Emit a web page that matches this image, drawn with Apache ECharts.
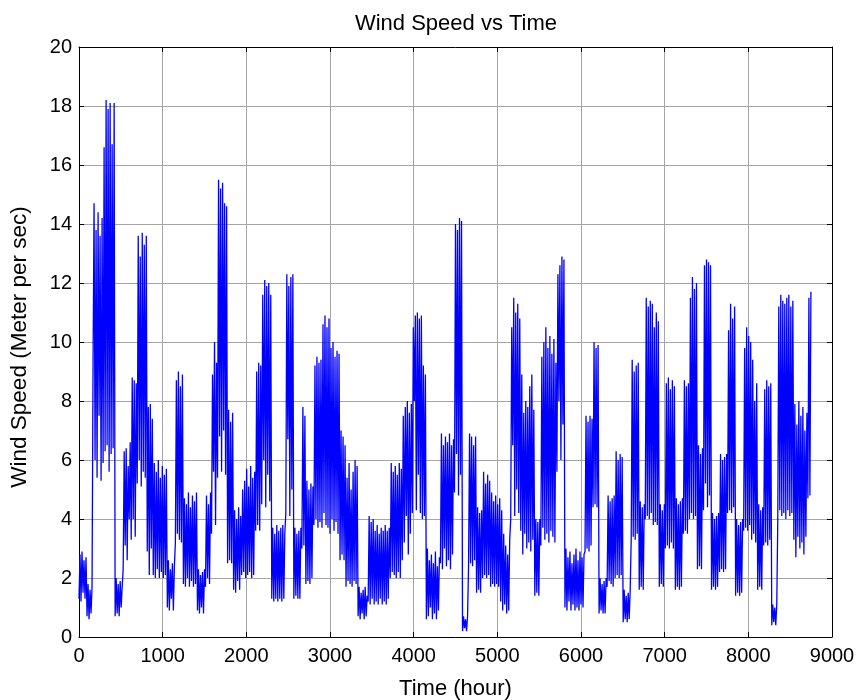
<!DOCTYPE html>
<html>
<head>
<meta charset="utf-8">
<script src="https://cdn.jsdelivr.net/npm/echarts@6/dist/echarts.min.js"></script>
<style>html,body{margin:0;padding:0;background:#fff}#c{width:857px;height:700px}</style>
</head>
<body>
<div id="c"></div>
<script>
// Time step between samples (hours); samples alternate daily low / daily high
var stepHours = 12;
// Wind speed (m/s), low/high pairs per day
var windSpeed = [
1.3,2.8, 1.2,2.9, 1.5,2.6, 1.3,2.7,
0.7,1.8, 0.6,1.6, 0.8,1.7,
9.3,14.7, 6.0,13.8, 5.4,14.4, 7.5,13.6, 5.3,14.2,
5.9,16.6, 6.3,18.2, 6.5,17.9, 5.6,18.1, 6.2,16.7, 6.4,18.1,
0.7,2.0, 0.8,1.8, 0.7,1.9, 1.0,1.7,
2.3,6.3, 3.1,6.4, 2.6,5.8, 4.0,6.6,
3.3,8.8, 4.0,8.7, 3.4,8.6,
5.2,13.6, 6.0,12.9, 5.1,13.7, 5.6,13.3, 5.4,13.6,
2.9,7.8, 2.1,7.9, 3.0,7.4,
2.1,5.9, 2.0,5.6, 2.3,6.0, 2.0,5.4, 2.2,5.8, 2.0,5.5, 2.1,5.7,
1.0,2.6, 0.9,2.3, 1.3,2.5, 0.9,2.4,
3.2,8.7, 3.5,9.0, 3.3,8.5, 3.2,8.9,
1.8,4.7, 1.7,4.5, 2.0,4.9, 1.7,4.4, 1.9,4.8, 1.7,4.6, 1.8,4.9,
0.9,2.3, 0.8,2.1, 1.0,2.2, 0.8,2.3,
1.7,4.8, 2.0,4.5, 1.8,4.9,
3.5,8.9, 5.6,10.0, 3.8,9.3,
5.4,15.5, 6.8,15.2, 5.6,15.4, 7.0,14.7, 5.5,14.6,
2.5,7.7, 2.6,7.3, 2.5,7.6,
1.6,4.3, 1.5,4.0, 1.9,4.4, 1.6,4.1,
2.1,5.0, 2.2,5.3, 2.0,5.7, 2.1,5.1, 2.2,5.8, 2.0,5.4, 2.1,5.6,
3.6,9.0, 3.8,9.3, 3.6,9.2,
4.5,11.6, 6.0,12.1, 4.4,11.9, 5.5,12.0, 4.6,11.6,
1.3,3.7, 1.2,3.5, 1.3,3.8, 1.2,3.6, 1.3,3.7, 1.2,3.8, 1.3,3.5,
4.2,12.3, 6.7,11.9, 4.1,12.2, 5.0,12.3,
1.3,3.7, 1.4,3.5, 1.3,3.6, 1.3,3.7,
3.0,7.8, 3.1,7.5,
1.8,5.3, 1.9,5.0, 1.8,5.2, 2.0,5.1,
3.8,9.2, 4.0,9.5, 3.7,9.3, 3.9,9.4,
3.7,10.6, 4.2,10.9, 3.8,10.5, 3.7,10.8,
3.5,9.8, 4.0,10.0, 3.6,9.5, 3.9,9.7, 3.5,9.6,
2.6,7.0, 2.8,6.8, 2.6,6.5,
1.7,5.4, 1.9,5.9, 1.8,5.0, 1.7,5.6, 1.9,6.0, 1.8,5.8,
0.7,1.7, 0.6,1.5, 0.8,1.6, 0.6,1.7, 0.7,1.4,
1.2,4.1, 1.1,3.9, 1.3,4.0, 1.1,3.6, 1.2,3.8, 1.1,3.5, 1.3,3.7, 1.1,3.6, 1.2,3.8, 1.1,3.6, 1.3,3.7,
2.0,5.9, 2.2,5.6, 2.1,5.8, 2.0,5.5, 2.2,5.9, 2.0,5.7,
2.6,7.5, 3.2,7.8, 4.1,8.0, 2.8,7.6, 3.5,7.9,
4.2,10.5, 8.0,10.9, 4.3,11.0, 5.5,10.8, 4.2,10.9,
4.0,9.2, 4.1,8.9,
0.6,3.0, 0.7,2.6, 1.0,2.8, 0.6,2.5, 0.8,2.9, 0.6,2.4, 0.9,2.7,
2.5,6.9, 2.3,6.5, 3.0,6.8, 2.4,6.6, 2.6,6.9, 2.3,6.5, 2.8,6.7,
4.9,14.0, 6.2,13.8, 4.8,14.2, 5.5,14.1,
0.2,0.7, 0.3,0.6, 0.2,0.7,
2.4,6.9, 2.5,6.8, 2.4,6.5, 2.6,6.8,
1.5,4.4, 1.6,4.2, 1.5,4.3,
2.0,5.6, 2.1,5.2, 2.0,5.5, 2.1,5.3,
1.7,4.9, 1.8,4.6, 1.7,4.8, 1.8,4.5, 1.7,4.7,
1.2,4.3, 0.9,3.5, 1.1,3.1, 0.8,2.8, 0.9,3.3,
4.0,10.5, 6.5,11.5, 4.1,11.0, 5.0,11.3, 4.2,10.8,
3.6,8.9, 2.8,7.6, 3.5,8.0, 3.0,7.8, 3.2,8.5, 2.9,8.9, 3.3,7.7,
1.4,4.0, 1.5,3.9, 1.4,4.0,
3.1,9.5, 3.7,10.0, 3.3,10.5, 3.5,9.8, 3.2,10.2, 3.6,9.6, 3.4,10.1, 3.2,9.3,
5.6,12.3, 8.0,12.6, 6.0,12.9, 7.2,12.8,
1.0,3.0, 0.9,2.7, 1.2,2.9, 0.9,2.5, 1.1,2.8, 0.9,3.0, 1.0,2.6, 0.9,2.9, 1.1,2.7, 1.0,2.8,
2.9,7.5, 3.0,7.3, 2.9,7.5, 3.1,7.4,
4.4,10.0, 4.5,9.8, 4.4,9.9,
0.8,2.0, 0.9,1.8, 0.8,1.9, 0.8,2.0,
1.7,4.8, 1.9,4.6, 1.8,4.7, 1.7,4.8,
2.0,6.3, 2.1,6.0, 2.0,6.2, 2.1,6.1,
0.5,1.6, 0.6,1.4, 0.5,1.5, 0.6,1.6,
3.3,9.4, 3.4,9.0, 3.3,9.2, 3.5,9.3,
1.6,4.6, 1.7,4.4, 1.6,4.5,
4.0,11.5, 4.1,11.2, 4.0,11.4, 4.2,11.3,
3.8,10.5, 3.9,11.0, 3.8,10.7,
1.7,4.5, 1.8,4.3, 1.7,4.5,
3.0,8.6, 3.1,8.8, 3.0,8.4, 3.2,8.7, 3.0,8.5,
1.6,4.7, 1.7,4.5, 1.6,4.6, 1.7,4.7,
3.5,8.7, 3.6,8.5, 3.5,8.6,
4.0,11.5, 4.2,12.2, 4.0,11.8, 4.1,12.0,
2.3,6.5, 2.4,6.2, 2.3,6.4,
4.3,12.6, 5.2,12.8, 4.4,12.7, 4.8,12.6,
1.6,4.2, 1.7,4.0, 1.6,4.1, 1.7,4.2,
2.2,6.2, 2.3,6.0, 2.2,6.1, 2.3,6.2,
4.2,10.4, 4.3,11.3, 4.2,10.8, 4.4,11.2,
1.4,4.0, 1.5,3.8, 1.4,3.9, 1.5,4.0,
3.6,9.8, 3.7,10.5, 3.6,10.2, 3.8,10.0,
3.3,9.4, 3.5,8.0, 3.2,8.6,
1.6,4.5, 1.7,4.3, 1.6,4.4,
3.1,8.4, 3.2,8.7, 3.1,8.5, 3.3,8.6,
0.4,1.1, 0.5,1.0, 0.4,1.1,
4.0,11.2, 4.3,11.6, 4.1,11.4, 4.2,11.3, 4.0,11.5, 4.3,11.6, 4.1,11.2, 4.2,11.4,
3.3,7.9, 2.7,7.2, 3.4,8.0, 3.0,7.5, 3.2,7.8, 2.8,7.0, 3.4,7.6,
4.7,11.5, 4.8,11.7
];
var xTicks = [0,1000,2000,3000,4000,5000,6000,7000,8000,9000];
var yTicks = [0,2,4,6,8,10,12,14,16,18,20];

var pts = windSpeed.map(function(v,i){ return [i*stepHours, v]; });

var font = 'Liberation Sans, Arial, sans-serif';
var chart = echarts.init(document.getElementById('c'), null, {renderer:'canvas'});
var axisBase = {
  axisLine:{show:true, onZero:false, lineStyle:{color:'#000', width:1}},
  axisTick:{show:true, inside:true, length:5, lineStyle:{color:'#000'}},
  splitLine:{show:false}
};
function plain(v){ return String(v); }
chart.setOption({
  animation:false,
  backgroundColor:'#fff',
  title:{text:'Wind Speed vs Time', left:451, top:8, textAlign:'center',
    textStyle:{fontFamily:font, fontSize:22, fontWeight:'normal', color:'#000'}},
  grid:{left:79, right:25, top:47, bottom:63, show:false, containLabel:false, outerBoundsMode:'none'},
  xAxis:[
    Object.assign({}, axisBase, {type:'value', position:'bottom', min:xTicks[0], max:xTicks[xTicks.length-1], interval:1000,
      name:'Time (hour)', nameLocation:'middle', nameGap:41,
      nameTextStyle:{fontFamily:font, fontSize:22, color:'#000'},
      axisLabel:{fontFamily:font, fontSize:20, color:'#000', margin:9, formatter:plain},
      splitLine:{show:true, lineStyle:{color:'#a6a6a6', width:1}}}),
    Object.assign({}, axisBase, {type:'value', position:'top', min:xTicks[0], max:xTicks[xTicks.length-1], interval:1000,
      axisLabel:{show:false}})
  ],
  yAxis:[
    Object.assign({}, axisBase, {type:'value', position:'left', min:yTicks[0], max:yTicks[yTicks.length-1], interval:2,
      name:'Wind Speed (Meter per sec)', nameLocation:'middle', nameGap:48, nameRotate:90,
      nameTextStyle:{fontFamily:font, fontSize:22.5, color:'#000', padding:[0,0,0,-10]},
      axisLabel:{fontFamily:font, fontSize:20, color:'#000', margin:7, formatter:plain},
      splitLine:{show:true, lineStyle:{color:'#a6a6a6', width:1}}}),
    Object.assign({}, axisBase, {type:'value', position:'right', min:yTicks[0], max:yTicks[yTicks.length-1], interval:2,
      axisLabel:{show:false}})
  ],
  series:[{
    type:'line', data:pts, xAxisIndex:0, yAxisIndex:0,
    showSymbol:false, symbol:'none', sampling:null,
    lineStyle:{color:'#0000ff', width:1.3}, z:5
  }]
});
</script>
</body>
</html>
